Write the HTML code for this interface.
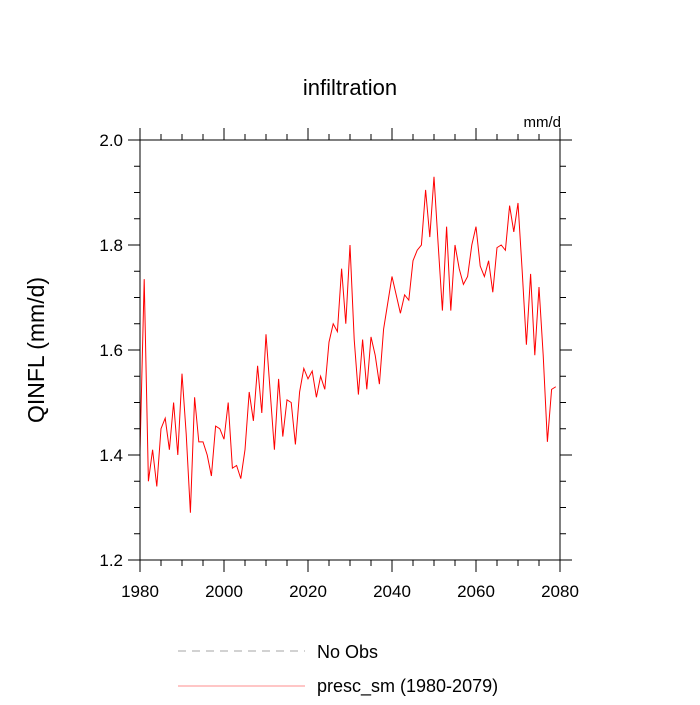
<!DOCTYPE html>
<html><head><meta charset="utf-8"><style>
body{margin:0;background:#fff}
svg text{font-family:"Liberation Sans",sans-serif;fill:#000}
</style></head><body>
<svg id="c" width="700" height="700" viewBox="0 0 700 700">
<text x="350" y="95" text-anchor="middle" font-size="22">infiltration</text>
<text x="561" y="127" text-anchor="end" font-size="15">mm/d</text>
<text transform="translate(44,350) rotate(-90)" text-anchor="middle" font-size="23">QINFL  (mm/d)</text>
<g id="axes"></g>
<polyline id="line" fill="none" stroke="#ff0000" stroke-width="1"/>
<rect x="140" y="140" width="420" height="420" fill="none" stroke="#000" stroke-width="1"/>
<line x1="178" y1="651" x2="305" y2="651" stroke="#888" stroke-width="0.8" stroke-dasharray="8,6"/>
<text x="317" y="658" font-size="18">No Obs</text>
<line x1="178" y1="686" x2="305" y2="686" stroke="#ff6666" stroke-width="0.8"/>
<text x="317" y="692" font-size="18">presc_sm (1980-2079)</text>
</svg>
<script>
const startYear = 1980;
const values = [1.406,1.735,1.35,1.41,1.34,1.45,1.47,1.41,1.50,1.40,
1.555,1.44,1.29,1.51,1.425,1.425,1.40,1.36,1.455,1.45,
1.43,1.50,1.375,1.38,1.355,1.41,1.52,1.465,1.57,1.48,
1.63,1.52,1.41,1.545,1.435,1.505,1.50,1.42,1.52,1.565,
1.545,1.56,1.51,1.55,1.525,1.615,1.65,1.635,1.755,1.65,
1.80,1.62,1.515,1.62,1.525,1.625,1.59,1.535,1.64,1.69,
1.74,1.705,1.67,1.705,1.695,1.77,1.79,1.80,1.905,1.815,
1.93,1.80,1.675,1.835,1.675,1.80,1.755,1.725,1.74,1.80,
1.835,1.76,1.74,1.77,1.71,1.795,1.80,1.79,1.875,1.825,
1.88,1.75,1.61,1.745,1.59,1.72,1.59,1.425,1.525,1.53];
const xTicks = [1980,2000,2020,2040,2060,2080];
const yTicks = [1.2,1.4,1.6,1.8,2.0];
const xMin=1980,xMax=2080,yMin=1.2,yMax=2.0;
const X=v=>140+(v-xMin)/(xMax-xMin)*420;
const Y=v=>560-(v-yMin)/(yMax-yMin)*420;
const ns="http://www.w3.org/2000/svg";
const g=document.getElementById('axes');
function ln(x1,y1,x2,y2,name){const l=document.createElementNS(ns,'line');
l.setAttribute('x1',x1);l.setAttribute('y1',y1);l.setAttribute('x2',x2);l.setAttribute('y2',y2);
l.setAttribute('stroke','#000');l.setAttribute('stroke-width','1');


g.appendChild(l);}
function tx(x,y,s,anchor,name){const t=document.createElementNS(ns,'text');
t.setAttribute('x',x);t.setAttribute('y',y);t.setAttribute('text-anchor',anchor);t.setAttribute('font-size','17');t.textContent=s;


g.appendChild(t);}
for(let v=xMin;v<=xMax;v+=5){const x=X(v);const L=(v%20===0)?12:6;
ln(x,560,x,560+L,'x-tick');ln(x,140,x,140-L,'x-tick-top');}
for(let i=0;i<=16;i++){const v=yMin+i*0.05;const y=Y(v);const L=(i%4===0)?12:6;
ln(140,y,140-L,y,'y-tick');ln(560,y,560+L,y,'y-tick-right');}
xTicks.forEach(v=>tx(X(v),597,String(v),'middle','x-tick-label'));
yTicks.forEach(v=>tx(123,Y(v)+6,v.toFixed(1),'end','y-tick-label'));
document.getElementById('line').setAttribute('points',values.map((v,i)=>X(startYear+i)+','+Y(v)).join(' '));
</script>
</body></html>
